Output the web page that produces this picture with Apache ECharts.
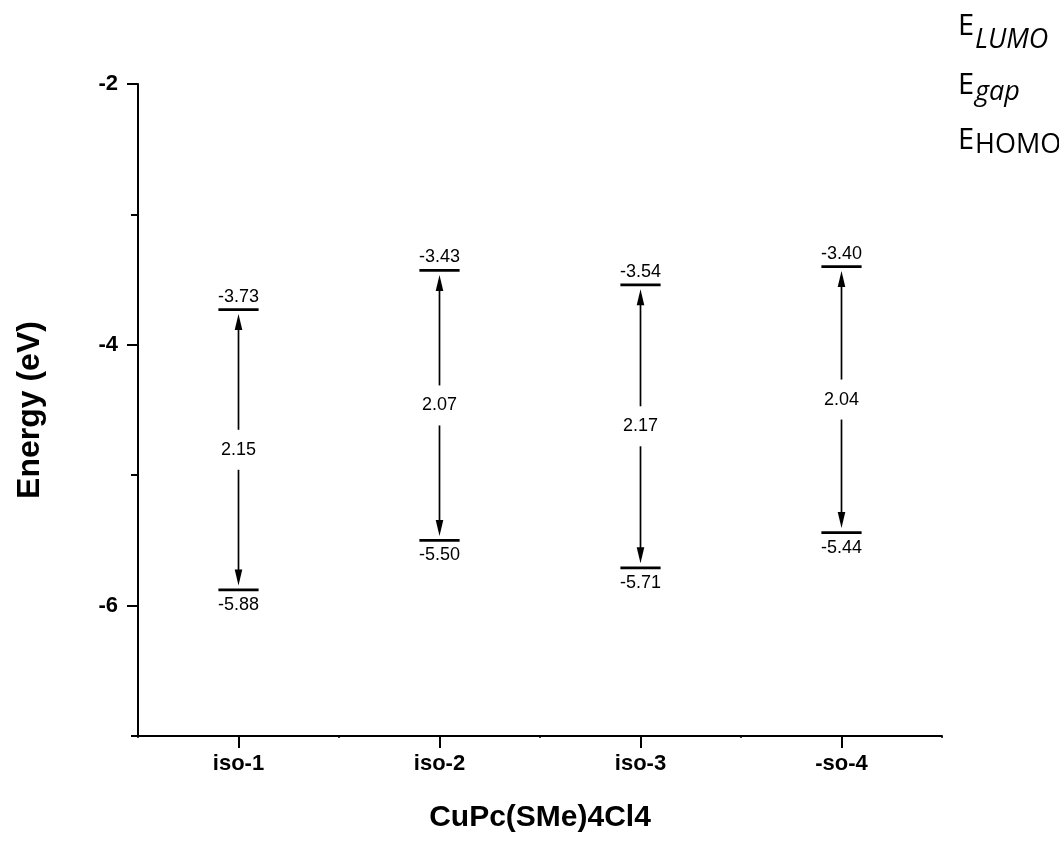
<!DOCTYPE html>
<html>
<head>
<meta charset="utf-8">
<script src="https://cdn.jsdelivr.net/npm/echarts@6/dist/echarts.min.js"></script>
<style>
  html, body { margin: 0; padding: 0; background: #fff; }
  #chart { width: 1059px; height: 857px; }
</style>
</head>
<body>
<div id="chart"></div>
<script>
// Frontier orbital energies of the CuPc(SMe)4Cl4 isomers (eV)
const categories = ['iso-1', 'iso-2', 'iso-3', '-so-4'];
const lumo = [-3.73, -3.43, -3.54, -3.40];
const homo = [-5.88, -5.50, -5.71, -5.44];
const gap = [2.15, 2.07, 2.17, 2.04];
const yMajorTicks = [-2, -4, -6];
const yMinorTicks = [-3, -5, -7];

const FONT = "'Liberation Sans', Arial, sans-serif";
const LEGEND_FONT = "'Open Sans', 'Liberation Sans', sans-serif";

const rows = categories.map((c, i) => [i, lumo[i], homo[i], gap[i]]);

function renderLevels(params, api) {
  const i = api.value(0);
  const up = api.value(1);
  const lo = api.value(2);
  const g = api.value(3);
  const pTop = api.coord([i, up]);
  const pBot = api.coord([i, lo]);
  const cx = pTop[0];
  const w = api.size([1, 0])[0] * 0.2;
  const yT = pTop[1];
  const yB = pBot[1];
  const mid = (yT + yB) / 2;
  const head = 16, half = 3.8, tipOff = 4.5, gapHalf = 20;
  const lineStyle = { stroke: '#000', lineWidth: 1.7 };
  const children = [
    { type: 'rect', shape: { x: cx - w / 2, y: yT - 1.4, width: w, height: 2.8 }, style: { fill: '#000' } },
    { type: 'rect', shape: { x: cx - w / 2, y: yB - 1.4, width: w, height: 2.8 }, style: { fill: '#000' } },
    { type: 'text', x: cx, y: yT - 4, style: { text: up.toFixed(2), font: '18px ' + FONT, fill: '#000', align: 'center', verticalAlign: 'bottom' } },
    { type: 'text', x: cx, y: yB + 6, style: { text: lo.toFixed(2), font: '18px ' + FONT, fill: '#000', align: 'center', verticalAlign: 'top' } },
    // upward arrow to the LUMO level
    { type: 'line', shape: { x1: cx, y1: yT + tipOff + head - 2, x2: cx, y2: mid - gapHalf }, style: lineStyle },
    { type: 'polygon', shape: { points: [[cx, yT + tipOff], [cx - half, yT + tipOff + head], [cx + half, yT + tipOff + head]] }, style: { fill: '#000' } },
    // downward arrow to the HOMO level
    { type: 'line', shape: { x1: cx, y1: mid + gapHalf, x2: cx, y2: yB - tipOff - head + 2 }, style: lineStyle },
    { type: 'polygon', shape: { points: [[cx, yB - tipOff], [cx - half, yB - tipOff - head], [cx + half, yB - tipOff - head]] }, style: { fill: '#000' } },
    { type: 'text', x: cx, y: mid, style: { text: g.toFixed(2), font: '18px ' + FONT, fill: '#000', align: 'center', verticalAlign: 'middle' } }
  ];
  return { type: 'group', children };
}

const chart = echarts.init(document.getElementById('chart'), null, { renderer: 'canvas' });

const axisLine = { show: true, lineStyle: { color: '#000', width: 2 } };

chart.setOption({
  animation: false,
  backgroundColor: '#fff',
  grid: { left: 138, right: 117, top: 84, bottom: 121, containLabel: false },
  xAxis: [
    {
      type: 'category',
      data: categories,
      boundaryGap: true,
      axisLine,
      axisTick: { show: true, alignWithLabel: true, length: 12, lineStyle: { color: '#000', width: 2 } },
      axisLabel: { color: '#000', fontFamily: FONT, fontWeight: 'bold', fontSize: 22, margin: 17 },
      splitLine: { show: false },
      name: 'CuPc(SMe)4Cl4',
      nameLocation: 'middle',
      nameGap: 67,
      nameTextStyle: { color: '#000', fontFamily: FONT, fontWeight: 'bold', fontSize: 30 }
    },
    {
      type: 'category',
      data: categories,
      boundaryGap: true,
      position: 'bottom',
      axisLine: { show: false },
      axisTick: { show: true, length: 2, lineStyle: { color: '#000', width: 1.5 } },
      axisLabel: { show: false },
      splitLine: { show: false }
    }
  ],
  yAxis: [
    {
      type: 'value',
      min: -7,
      max: -2,
      interval: 1,
      axisLine,
      axisTick: { show: true, length: 11, customValues: yMajorTicks, lineStyle: { color: '#000', width: 2 } },
      axisLabel: { color: '#000', fontFamily: FONT, fontWeight: 'bold', fontSize: 22, margin: 20, customValues: yMajorTicks, formatter: v => String(v) },
      splitLine: { show: false },
      name: 'Energy (eV)',
      nameLocation: 'middle',
      nameGap: 92,
      nameTextStyle: { color: '#000', fontFamily: FONT, fontWeight: 'bold', fontSize: 32 }
    },
    {
      type: 'value',
      min: -7,
      max: -2,
      interval: 1,
      position: 'left',
      axisLine: { show: false },
      axisTick: { show: true, length: 7, customValues: yMinorTicks, lineStyle: { color: '#000', width: 2 } },
      axisLabel: { show: false },
      splitLine: { show: false }
    }
  ],
  series: [
    {
      type: 'custom',
      xAxisIndex: 0,
      yAxisIndex: 0,
      data: rows,
      encode: { x: 0, y: [1, 2] },
      renderItem: renderLevels
    }
  ],
  graphic: [
    { type: 'text', left: 958, top: 12, style: { text: 'E', font: '29px ' + LEGEND_FONT, fill: '#000' } },
    { type: 'text', left: 975, top: 27, style: { text: 'LUMO', font: 'italic 27px ' + LEGEND_FONT, fill: '#000' } },
    { type: 'text', left: 958, top: 71, style: { text: 'E', font: '29px ' + LEGEND_FONT, fill: '#000' } },
    { type: 'text', left: 975, top: 79, style: { text: 'gap', font: 'italic 27px ' + LEGEND_FONT, fill: '#000' } },
    { type: 'text', left: 958, top: 126, style: { text: 'E', font: '29px ' + LEGEND_FONT, fill: '#000' } },
    { type: 'text', left: 975, top: 132, style: { text: 'HOMO', font: '27px ' + LEGEND_FONT, fill: '#000' } }
  ]
});
</script>
</body>
</html>
